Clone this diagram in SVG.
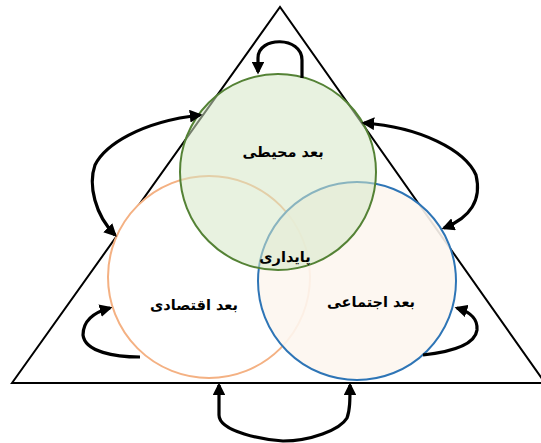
<svg xmlns="http://www.w3.org/2000/svg" width="541" height="443" viewBox="0 0 541 443">
<defs>
<marker id="ah" viewBox="0 0 10 10" refX="8" refY="5" markerWidth="4" markerHeight="4" orient="auto-start-reverse" markerUnits="strokeWidth">
<path d="M0,0 L10,5 L0,10 Z" fill="#000"/>
</marker>
<style>
.arr{fill:none;stroke:#000;stroke-width:3.2;}
.lbl{font-family:"DejaVu Sans",sans-serif;font-weight:bold;font-size:14.5px;fill:#000;text-anchor:middle;}
</style>
</defs>
<rect width="541" height="443" fill="#fff"/>
<g id="triangle">
<path d="M12,383 L280,7 L545,383 Z" fill="none" stroke="#000" stroke-width="2"/>
</g>
<g id="economic">
<circle cx="209" cy="277" r="101" fill="#fff" stroke="#f4b183" stroke-width="2"/>
</g>
<g id="social">
<circle cx="357" cy="281" r="99" fill="#fdf6f0" fill-opacity="0.9" stroke="#2e75b6" stroke-width="2"/>
</g>
<g id="environmental">
<circle cx="278" cy="172" r="98" fill="#d6e8c6" fill-opacity="0.55" stroke="#548235" stroke-width="2"/>
</g>
<g id="connectors">
<path class="arr" d="M302,78 L302,60 C302,36 258,36 258,58 L258,72" marker-end="url(#ah)"/>
<path class="arr" d="M200,115 C140,122 105,145 95,165 C88,185 95,215 115,235" marker-start="url(#ah)" marker-end="url(#ah)"/>
<path class="arr" d="M364,123 C420,127 465,150 476,175 C482,200 470,218 444,228" marker-start="url(#ah)" marker-end="url(#ah)"/>
<path class="arr" d="M140,357 C115,357 85,352 83,335 C83,320 95,312 110,308" marker-end="url(#ah)"/>
<path class="arr" d="M423,355 C450,352 475,345 477,330 C478,318 470,312 457,308" marker-end="url(#ah)"/>
<path class="arr" d="M219,385 L219,415 C219,432 265,440 283,441 C310,441 340,430 347,418 C350,410 350,400 350,385" marker-start="url(#ah)" marker-end="url(#ah)"/>
</g>
<g id="labels">
<text class="lbl" x="283" y="157">بعد محیطی</text>
<text class="lbl" x="285" y="262">پایداری</text>
<text class="lbl" x="194" y="310">بعد اقتصادی</text>
<text class="lbl" x="371" y="307">بعد اجتماعی</text>
</g>
</svg>
